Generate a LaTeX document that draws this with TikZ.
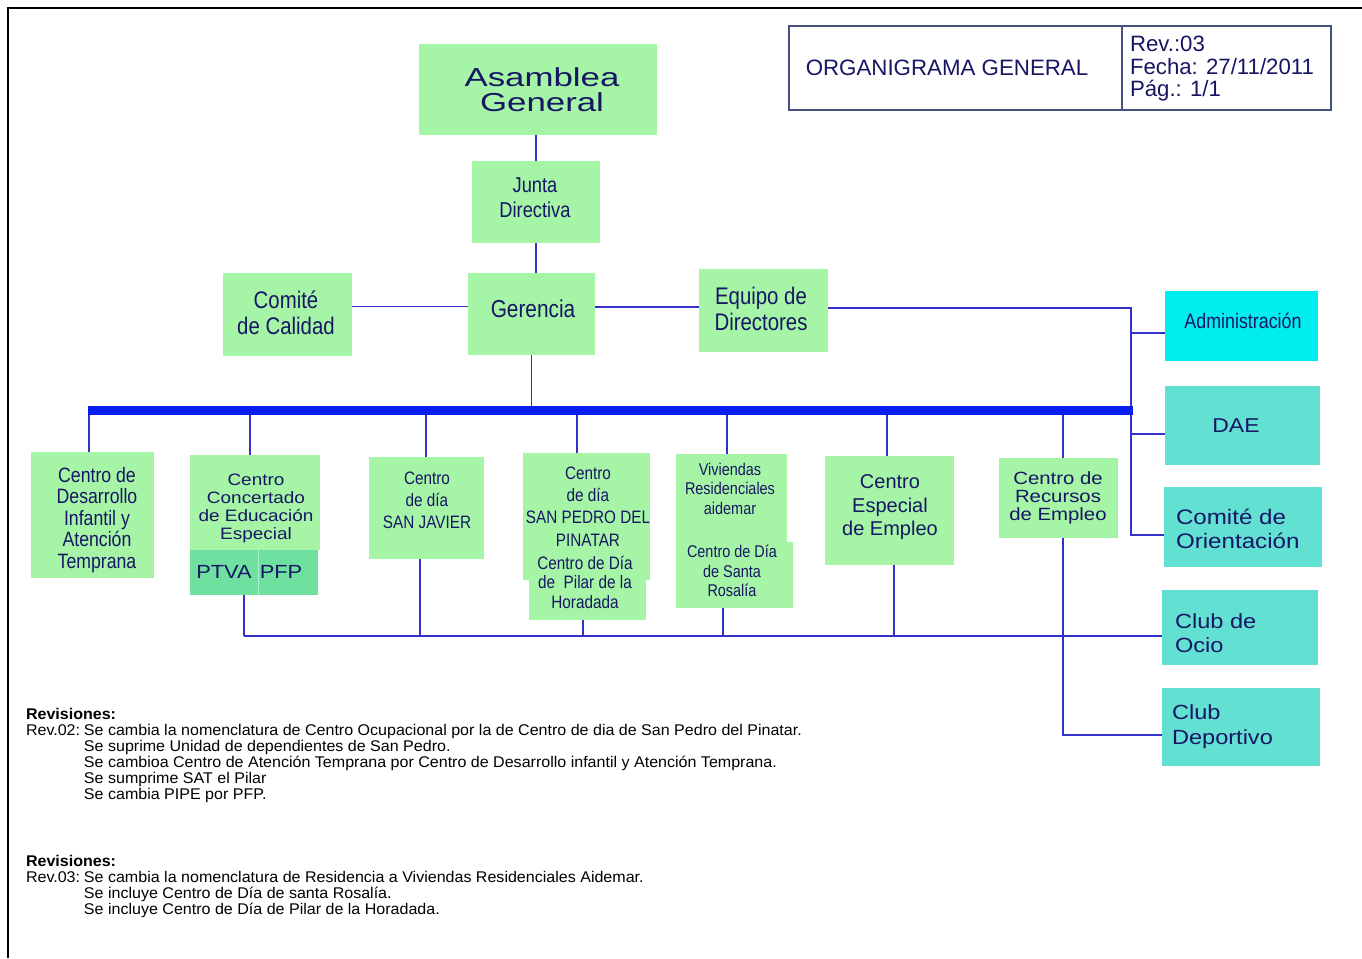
\documentclass[tikz,border=0pt]{standalone}
\usepackage{fontspec}
\setmainfont{Liberation Sans}
\newfontfamily\fAsam[FakeStretch=1.34]{Liberation Sans}
\newfontfamily\fWide[FakeStretch=1.15]{Liberation Sans}
\newfontfamily\fArial{Liberation Sans}
\newfontfamily\fRev[FakeStretch=1.035]{Liberation Sans}
\newfontfamily\fNarrow[FakeStretch=0.85]{Liberation Sans}
\definecolor{lgreen}{RGB}{166,245,166}
\definecolor{mgreen}{RGB}{110,224,160}
\definecolor{cyanb}{RGB}{0,238,240}
\definecolor{turq}{RGB}{98,224,210}
\definecolor{navy}{RGB}{22,22,100}
\definecolor{lineblue}{RGB}{50,50,200}
\definecolor{busblue}{RGB}{8,30,240}
\definecolor{tborder}{RGB}{70,80,125}
\newcommand{\bx}[6]{\node[#6, minimum width={(#4)-(#2)}, minimum height={(#5)-(#3)}] (#1) at ({(#2+#4)/2},{(#3+#5)/2}) {};}
\begin{document}
\begin{tikzpicture}[x=1pt,y=-1pt,
  gbox/.style={fill=lgreen, inner sep=0pt, outer sep=0pt},
  mbox/.style={fill=mgreen, inner sep=0pt, outer sep=0pt},
  cbox/.style={fill=cyanb, inner sep=0pt, outer sep=0pt},
  tbox/.style={fill=turq, inner sep=0pt, outer sep=0pt},
  titlebox/.style={draw=tborder, line width=1.6pt, inner sep=0pt, outer sep=0pt},
  txt/.style={text=navy, inner sep=0pt, outer sep=0pt, align=center},
  ln/.style={draw=lineblue, line width=1.6pt},
  busline/.style={draw=busblue, line width=9pt},
  rev/.style={text=black, inner sep=0pt, outer sep=0pt, align=left, anchor=north west, font=\fRev\fontsize{15.5}{16}\selectfont}
]
\useasboundingbox (0,0) rectangle (1362,958);
\fill[white] (0,0) rectangle (1362,958);
\draw[black, line width=2pt] (8,958) -- (8,8) -- (1362,8);

% boxes
\bx{asam}{419}{44}{657}{135}{gbox}
\bx{junta}{472}{161}{600}{243}{gbox}
\bx{calidad}{223}{273}{352}{356}{gbox}
\bx{geren}{468}{273}{595}{355}{gbox}
\bx{equipo}{699}{269}{828}{352}{gbox}
\bx{tleft}{789}{26}{1122}{110}{titlebox}
\bx{tright}{1122}{26}{1331}{110}{titlebox}
\bx{admin}{1165}{291}{1318}{361}{cbox}
\bx{dae}{1165}{386}{1320}{465}{tbox}
\bx{corient}{1164}{487}{1322}{567}{tbox}
\bx{ocio}{1162}{590}{1318}{665}{tbox}
\bx{deport}{1162}{688}{1320}{766}{tbox}
\bx{cdiat}{31}{452}{154}{578}{gbox}
\bx{cced}{190}{455}{320}{550}{gbox}
\bx{ptva}{190}{550}{258}{595}{mbox}
\bx{pfp}{258}{550}{318}{595}{mbox}
\bx{sjav}{369}{457}{484}{559}{gbox}
\bx{sped}{523}{453}{650}{580}{gbox}
\bx{pilar}{529}{540}{646}{620}{gbox}
\bx{viv}{676}{454}{787}{542}{gbox}
\bx{rosa}{676}{542}{793}{608}{gbox}
\bx{cee}{825}{456}{954}{565}{gbox}
\bx{cre}{999}{458}{1118}{538}{gbox}
\draw[white!45!mgreen, line width=0.8pt] (ptva.north east) -- (ptva.south east);

% texts
\node[txt, font=\fAsam\fontsize{26}{25}\selectfont] (asamT) at (542,89.7) {Asamblea\\General};
\node[txt, font=\fNarrow\fontsize{21.5}{25}\selectfont] (juntaT) at (535,197.5) {Junta\\Directiva};
\node[txt, font=\fNarrow\fontsize{24}{26}\selectfont] (calidadT) at (286,313) {Comité\\de Calidad};
\node[txt, font=\fNarrow\fontsize{24.5}{26}\selectfont] (gerenT) at (533,309) {Gerencia};
\node[txt, font=\fNarrow\fontsize{24}{26}\selectfont] (equipoT) at (761,309) {Equipo de\\Directores};
\node[txt, font=\fArial\fontsize{22.3}{24}\selectfont] (titleT) at (947,68) {ORGANIGRAMA GENERAL};
\node[txt, align=left, anchor=west, font=\fArial\fontsize{22.2}{22.5}\selectfont] (revT) at (1130,69) {Rev.:03\\Fecha: 27/11/2011\\Pág.: 1/1};
\node[txt, font=\fNarrow\fontsize{21}{24}\selectfont] (adminT) at (1243,321) {Administración};
\node[txt, font=\fWide\fontsize{20}{24}\selectfont] (daeT) at (1236,426) {DAE};
\node[txt, align=left, anchor=west, font=\fWide\fontsize{21}{24}\selectfont] (corientT) at (1176,529) {Comité de\\Orientación};
\node[txt, align=left, anchor=west, font=\fWide\fontsize{20.5}{24}\selectfont] (ocioT) at (1175,633) {Club de\\Ocio};
\node[txt, align=left, anchor=west, font=\fWide\fontsize{20.5}{25}\selectfont] (deportT) at (1172,727) {Club\\Deportivo};
\node[txt, font=\fNarrow\fontsize{20.8}{21.5}\selectfont] (cdiatT) at (97,520) {Centro de\\Desarrollo\\Infantil y\\Atención\\Temprana};
\node[txt, font=\fWide\fontsize{16.5}{18}\selectfont] (ccedT) at (256,508.5) {Centro\\Concertado\\de Educación\\Especial};
\node[txt, font=\fWide\fontsize{19}{22}\selectfont] (ptvaT) at (224,572) {PTVA};
\node[txt, font=\fWide\fontsize{19}{22}\selectfont] (pfpT) at (281,572) {PFP};
\node[txt, font=\fNarrow\fontsize{18}{22}\selectfont] (sjavT) at (427,500) {Centro\\de día\\SAN JAVIER};
\node[txt, font=\fNarrow\fontsize{18}{22.3}\selectfont] (spedT) at (588,506.5) {Centro\\de día\\SAN PEDRO DEL\\PINATAR};
\node[txt, font=\fNarrow\fontsize{18}{19.5}\selectfont] (pilarT) at (585,582) {Centro de Día\\de\ \ Pilar de la\\Horadada};
\node[txt, font=\fNarrow\fontsize{17}{19.5}\selectfont] (vivT) at (730,488.5) {Viviendas\\Residenciales\\aidemar};
\node[txt, font=\fNarrow\fontsize{17}{19.5}\selectfont] (rosaT) at (732,571) {Centro de Día\\de Santa\\Rosalía};
\node[txt, font=\fArial\fontsize{20}{23.5}\selectfont] (ceeT) at (890,507.5) {Centro\\Especial\\de Empleo};
\node[txt, font=\fWide\fontsize{17.7}{18}\selectfont] (creT) at (1058,498) {Centro de\\Recursos\\de Empleo};

% connectors
\draw[ln] (junta.north |- asam.south) -- (junta.north);
\draw[ln] (junta.south) -- (junta.south |- geren.north);
\draw[ln] ([yshift=8pt]calidad.east) -- ([yshift=8pt]calidad.east -| geren.west);
\draw[ln] ([yshift=7pt]geren.east) -- ([yshift=7pt]geren.east -| equipo.west);
\coordinate (vtop) at (1131,308);
\coordinate (corIn) at ([yshift=-8pt]corient.west);
\coordinate (adminIn) at ([yshift=-7pt]admin.west);
\coordinate (daeIn) at ([yshift=-8.5pt]dae.west);
\draw[ln] (equipo.east |- vtop) -- (vtop) |- (corIn);
\draw[ln] (adminIn -| vtop) -- (adminIn);
\draw[ln] (daeIn -| vtop) -- (daeIn);

\coordinate (busL) at (88,410);
\coordinate (busR) at (1133,410);
\draw[ln] (geren.south) -- (geren.south |- busL);
\foreach \n/\s in {cdiat/-3.5, cced/-5, sjav/-0.5, sped/-9.5, viv/-4.5, cee/-2.5, cre/4.5}
  \draw[ln] ([xshift=\s pt]\n.north) -- ([xshift=\s pt]\n.north |- busL);
\draw[busline] (busL) -- (busR);

\coordinate (lowL) at (244,636);
\draw[ln] (lowL) -- (lowL -| ocio.west);
\foreach \n/\s in {ptva/20, sjav/-6.5, pilar/-4.5, rosa/-11.5, cee/4.5}
  \draw[ln] ([xshift=\s pt]\n.south) -- ([xshift=\s pt]\n.south |- lowL);
\coordinate (depIn) at ([yshift=-8pt]deport.west);
\draw[ln] ([xshift=4.5pt]cre.south) |- (depIn);

% revisions
\node[rev] (rev2) at (26,708) {\textbf{Revisiones:}\\\makebox[58pt][l]{Rev.02:}Se cambia la nomenclatura de Centro Ocupacional por la de Centro de dia de San Pedro del Pinatar.\\\hspace*{58pt}Se suprime Unidad de dependientes de San Pedro.\\\hspace*{58pt}Se cambioa Centro de Atención Temprana por Centro de Desarrollo infantil y Atención Temprana.\\\hspace*{58pt}Se sumprime SAT el Pilar\\\hspace*{58pt}Se cambia PIPE por PFP.};
\node[rev] (rev3) at (26,855) {\textbf{Revisiones:}\\\makebox[58pt][l]{Rev.03:}Se cambia la nomenclatura de Residencia a Viviendas Residenciales Aidemar.\\\hspace*{58pt}Se incluye Centro de Día de santa Rosalía.\\\hspace*{58pt}Se incluye Centro de Día de Pilar de la Horadada.};
\end{tikzpicture}
\end{document}
